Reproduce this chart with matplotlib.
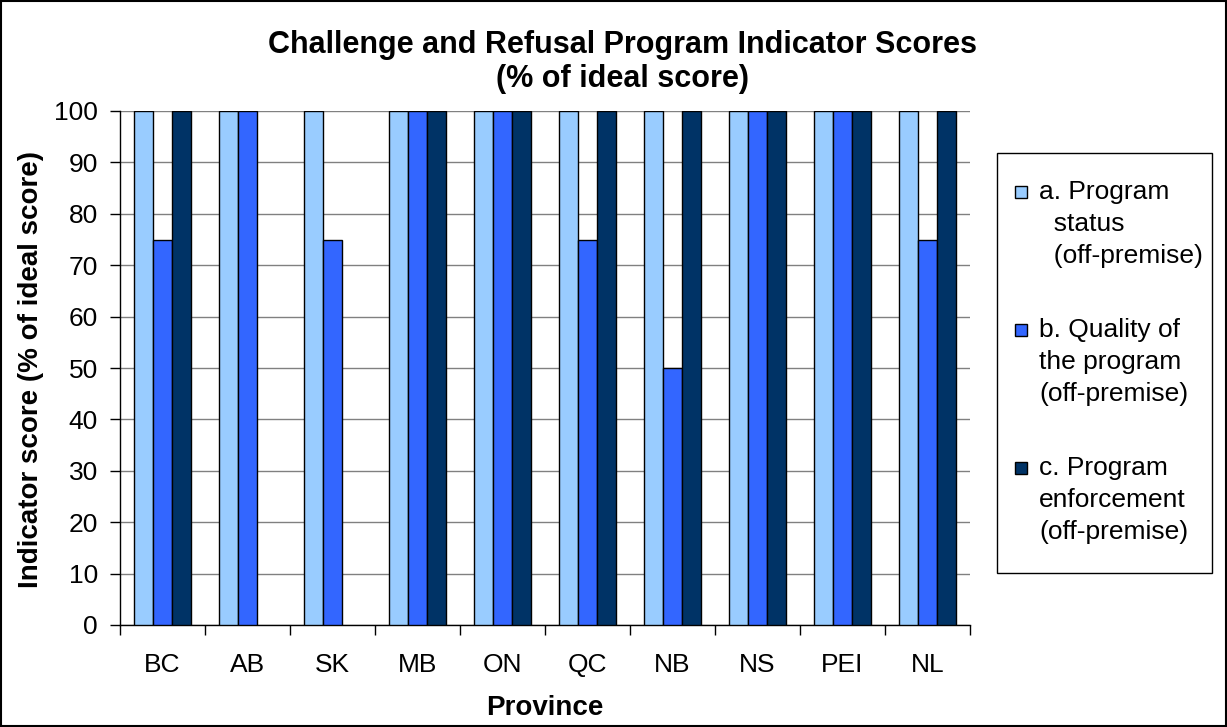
import numpy as np
import matplotlib
matplotlib.use('Agg')
import matplotlib.pyplot as plt
from matplotlib.patches import Rectangle

plt.rcParams['font.family'] = ['Liberation Sans', 'DejaVu Sans']

provinces = ['BC', 'AB', 'SK', 'MB', 'ON', 'QC', 'NB', 'NS', 'PEI', 'NL']
status = [100, 100, 100, 100, 100, 100, 100, 100, 100, 100]
quality = [75, 100, 75, 100, 100, 75, 50, 100, 100, 75]
enforcement = [100, 0, 0, 100, 100, 100, 100, 100, 100, 100]

labels = [['a. Program', '  status', '  (off-premise)'],
          ['b. Quality of', 'the program', '(off-premise)'],
          ['c. Program', 'enforcement', '(off-premise)']]
colors = ['#99ccff', '#3366ff', '#003366']

W, H = 1227, 727
fig = plt.figure(figsize=(W / 100, H / 100), dpi=100)
ax = fig.add_axes([120 / W, 1 - 625 / H, 850 / W, 514 / H])

x = np.arange(len(provinces))
w = 0.22
for i, (vals, c) in enumerate(zip([status, quality, enforcement], colors)):
    vals = np.array(vals, dtype=float)
    keep = vals > 0
    ax.bar(x[keep] + (i - 1) * w, vals[keep], w, color=c, edgecolor='black',
           linewidth=1, zorder=3)

ax.set_xlim(-0.5, len(provinces) - 0.5)
ax.set_ylim(0, 100)
ax.set_yticks(range(0, 101, 10))
ax.yaxis.grid(True, color='#808080', linewidth=1, zorder=0)
ax.set_xticks(x)
ax.set_xticklabels(provinces)
ax.set_xticks(np.arange(-0.5, len(provinces)), minor=True)
ax.tick_params(axis='x', which='major', length=0, labelsize=19, pad=20)
ax.tick_params(axis='x', which='minor', length=7, direction='out', width=1)
ax.tick_params(axis='y', length=7, direction='out', labelsize=19, width=1, pad=9)
for s in ['top', 'right']:
    ax.spines[s].set_visible(False)
for s in ['left', 'bottom']:
    ax.spines[s].set_linewidth(1)

fig.text(31 / W, 1 - 369 / H, 'Indicator score (% of ideal score)', rotation=90,
         ha='center', va='center', fontsize=20, fontweight='bold')
fig.text(623 / W, 1 - 62 / H, 'Challenge and Refusal Program Indicator Scores\n(% of ideal score)',
         ha='center', va='center', fontsize=22, fontweight='bold', linespacing=1.15)
fig.text(545 / W, 1 - 708 / H, 'Province', ha='center', va='center',
         fontsize=20, fontweight='bold')

# legend drawn by hand so the swatch sits on the first line
fig.patches.append(Rectangle((997 / W, 1 - 573 / H), 215 / W, 420 / H,
                             transform=fig.transFigure, fill=False,
                             edgecolor='black', linewidth=1))
for i, (lines, c) in enumerate(zip(labels, colors)):
    y0 = 192 + i * 138
    fig.patches.append(Rectangle((1015 / W, 1 - (y0 + 6) / H), 12 / W, 12 / H,
                                 transform=fig.transFigure, facecolor=c,
                                 edgecolor='black', linewidth=1))
    for j, t in enumerate(lines):
        fig.text(1039 / W, 1 - (y0 + j * 32) / H, t, ha='left', va='center',
                 fontsize=19)

fig.patches.append(Rectangle((0.001, 0.001), 0.998, 0.998, transform=fig.transFigure,
                             fill=False, edgecolor='black', linewidth=1.5))

fig.savefig('out.png', dpi=100)
